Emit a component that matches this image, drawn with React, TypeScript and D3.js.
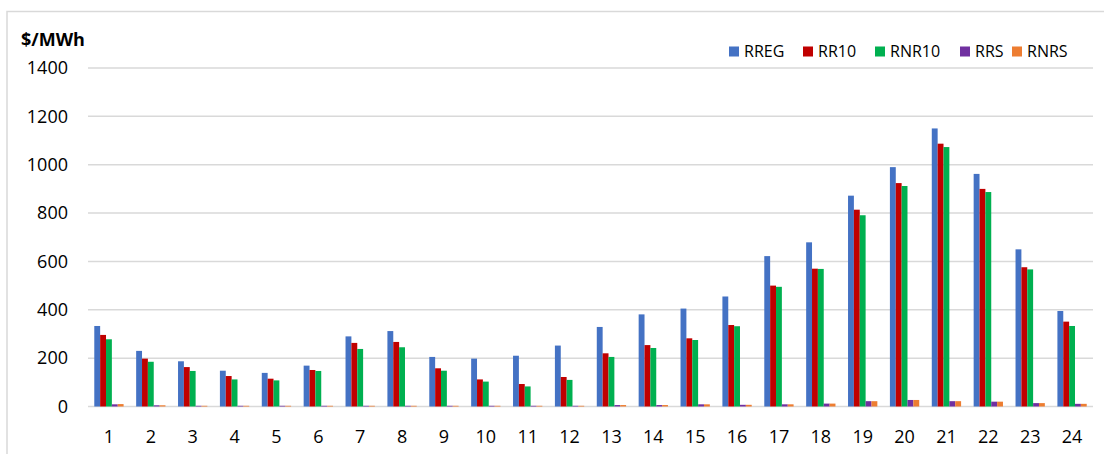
import React from "react";
import * as d3 from "d3";

const hours = ["1","2","3","4","5","6","7","8","9","10","11","12","13","14","15","16","17","18","19","20","21","22","23","24"];
const seriesNames = ["RREG", "RR10", "RNR10", "RRS", "RNRS"];
const seriesColors = ["#4472C4", "#C00000", "#00B050", "#7030A0", "#ED7D31"];

const rreg = [333, 230, 187, 148, 139, 169, 290, 312, 205, 198, 210, 252, 329, 381, 405, 455, 622, 679, 872, 990, 1150, 962, 650, 395];
const rr10 = [296, 198, 163, 126, 115, 151, 263, 267, 158, 112, 93, 122, 220, 254, 282, 337, 500, 570, 814, 924, 1087, 900, 576, 351];
const rnr10 = [278, 185, 147, 112, 108, 147, 238, 245, 148, 103, 83, 110, 205, 242, 275, 332, 495, 569, 791, 912, 1073, 887, 567, 333];
const rrs = [9, 5, 3, 3, 3, 3, 3, 3, 3, 3, 3, 3, 6, 6, 9, 7, 9, 12, 22, 27, 22, 20, 14, 11];
const rnrs = [10, 5, 3, 3, 3, 3, 3, 3, 3, 3, 3, 3, 6, 6, 9, 7, 9, 12, 22, 27, 22, 20, 14, 11];
const seriesValues = [rreg, rr10, rnr10, rrs, rnrs];

const yTicks = [0, 200, 400, 600, 800, 1000, 1200, 1400];
const yUnit = "$/MWh";

const W = 1104;
const H = 454;
const FONT = "'Open Sans', 'Noto Sans', sans-serif";

export default function App() {
  const x = d3.scaleBand<string>().domain(hours).range([88, 1093]).paddingInner(0.3).paddingOuter(0.15);
  const xi = d3.scaleBand<string>().domain(seriesNames).range([0, x.bandwidth()]);
  const y = d3.scaleLinear().domain([0, 1400]).range([406.5, 68]);

  const legendX = [729, 803, 875, 960, 1012];

  return (
    <svg width={W} height={H} style={{ position: "absolute", left: 0, top: 0, display: "block" }}>
      <rect x={0} y={0} width={W} height={H} fill="#fff" />
      <path d="M7,460 L7,11.5 L1110,11.5" fill="none" stroke="#d9d9d9" strokeWidth={1.5} />
      {yTicks.map((t) => (
        <g key={t}>
          <line x1={88} x2={1093} y1={y(t)} y2={y(t)} stroke="#d9d9d9" strokeWidth={1.5} />
          <text x={68} y={y(t)} dy="0.35em" textAnchor="end" fontFamily={FONT} fontSize={18} fill="#000">{t}</text>
        </g>
      ))}
      <text x={21} y={40} dy="0.35em" fontFamily={FONT} fontSize={18} fontWeight="bold" fill="#000">{yUnit}</text>
      {hours.map((h, i) => (
        <g key={h} transform={`translate(${x(h)},0)`}>
          {seriesNames.map((s, k) => {
            const v = seriesValues[k][i];
            return (
              <rect key={s} x={xi(s)} y={y(v)} width={xi.bandwidth()} height={y(0) - y(v)} fill={seriesColors[k]} />
            );
          })}
        </g>
      ))}
      {hours.map((h) => (
        <text key={h} x={(x(h) as number) + x.bandwidth() / 2} y={437} dy="0.35em" textAnchor="middle" fontFamily={FONT} fontSize={18} fill="#000">{h}</text>
      ))}
      {seriesNames.map((s, k) => (
        <g key={s} transform={`translate(${legendX[k]},0)`}>
          <rect x={0} y={46.5} width={10} height={10} fill={seriesColors[k]} />
          <text x={15} y={51.5} dy="0.35em" fontFamily={FONT} fontSize={16} fill="#000">{s}</text>
        </g>
      ))}
    </svg>
  );
}
